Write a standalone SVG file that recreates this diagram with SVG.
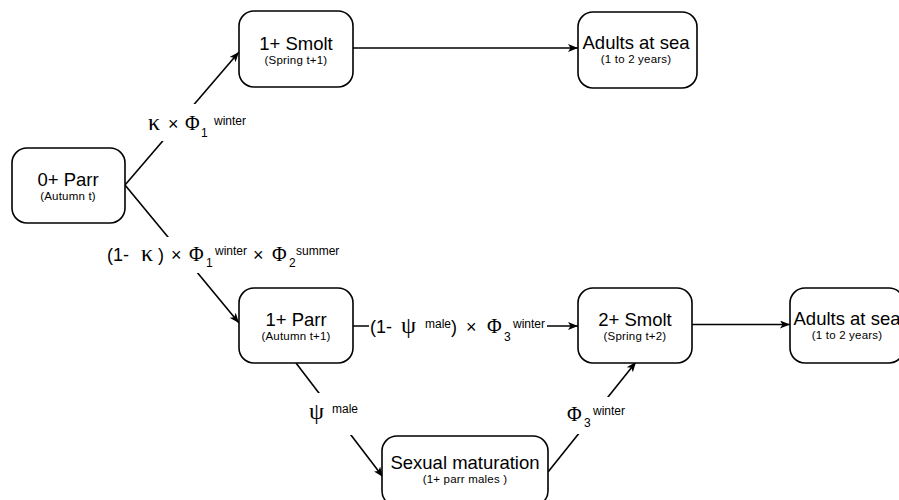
<svg xmlns="http://www.w3.org/2000/svg" width="899" height="500" viewBox="0 0 899 500">
<style>
.box{fill:#fff;stroke:#000;stroke-width:1.6}
.t{font-family:"Liberation Sans",Arial,sans-serif;font-size:18.5px;fill:#000;text-anchor:middle}
.s{font-family:"Liberation Sans",Arial,sans-serif;font-size:11.5px;letter-spacing:0.2px;fill:#000;text-anchor:middle}
.ln{fill:none;stroke:#000;stroke-width:1.6}
.bg{fill:#fff}
.lb{font-family:"Liberation Sans",Arial,sans-serif;font-size:18px;fill:#000}
.g{font-family:"Liberation Serif","Times New Roman",serif;font-size:20px}
.gk{font-family:"Liberation Serif","Times New Roman",serif;font-size:24px}
.sm{font-size:12px}
</style>
<defs>
<marker id="arr" viewBox="0 0 10 8" refX="10" refY="4" markerWidth="10" markerHeight="8" markerUnits="userSpaceOnUse" orient="auto">
<path d="M0,0 L10,4 L0,8 L2.5,4 Z" fill="#000"/>
</marker>
</defs>
<g id="connectors">
<path class="ln" d="M125,185 L239,52" marker-end="url(#arr)"/>
<path class="ln" d="M125,185 L239,323" marker-end="url(#arr)"/>
<path class="ln" d="M353,48 L578,48" marker-end="url(#arr)"/>
<path class="ln" d="M353,326 L578,326" marker-end="url(#arr)"/>
<path class="ln" d="M692,324.5 L790,324.5" marker-end="url(#arr)"/>
<path class="ln" d="M296,363 L383,477" marker-end="url(#arr)"/>
<path class="ln" d="M548,472 L636,362" marker-end="url(#arr)"/>
</g>
<g id="labels">
<g id="label-kappa">
<rect class="bg" x="145" y="104" width="103" height="37"/>
<text class="lb"><tspan class="gk" x="148" y="130">κ</tspan><tspan x="168" y="130">×</tspan><tspan class="g" x="185" y="130">Φ</tspan><tspan class="sm" x="201" y="137">1</tspan><tspan class="sm" x="214" y="125">winter</tspan></text>
</g>
<g id="label-one-minus-kappa">
<rect class="bg" x="104" y="237" width="242" height="36"/>
<text class="lb"><tspan x="107" y="261">(1-</tspan><tspan class="gk" x="141" y="261">κ</tspan><tspan x="158" y="261">)</tspan><tspan x="171" y="261">×</tspan><tspan class="g" x="189" y="261">Φ</tspan><tspan class="sm" x="206" y="267">1</tspan><tspan class="sm" x="215" y="255">winter</tspan><tspan x="253" y="261">×</tspan><tspan class="g" x="272" y="261">Φ</tspan><tspan class="sm" x="289" y="267">2</tspan><tspan class="sm" x="296" y="255">summer</tspan></text>
</g>
<g id="label-one-minus-psi">
<rect class="bg" x="369" y="316" width="178" height="28"/>
<text class="lb"><tspan x="370" y="333">(1-</tspan><tspan class="gk" x="401" y="333">ψ</tspan><tspan class="sm" x="425" y="328">male</tspan><tspan x="451" y="333">)</tspan><tspan x="466" y="333">×</tspan><tspan class="g" x="487" y="333">Φ</tspan><tspan class="sm" x="504" y="341">3</tspan><tspan class="sm" x="513" y="328">winter</tspan></text>
</g>
<g id="label-psi">
<rect class="bg" x="306" y="393" width="56" height="42"/>
<text class="lb"><tspan class="gk" x="309" y="419">ψ</tspan><tspan class="sm" x="332" y="413">male</tspan></text>
</g>
<g id="label-phi3">
<rect class="bg" x="564" y="397" width="66" height="37"/>
<text class="lb"><tspan class="g" x="567" y="421">Φ</tspan><tspan class="sm" x="584" y="427">3</tspan><tspan class="sm" x="593" y="415">winter</tspan></text>
</g>
</g>
<g id="node-0parr">
<rect class="box" x="12" y="148" width="113" height="75" rx="15"/>
<text class="t" x="68" y="186">0+ Parr</text>
<text class="s" x="68" y="200">(Autumn t)</text>
</g>
<g id="node-1smolt">
<rect class="box" x="239" y="11" width="114" height="76" rx="15"/>
<text class="t" x="296" y="50">1+ Smolt</text>
<text class="s" x="296" y="64">(Spring t+1)</text>
</g>
<g id="node-adults1">
<rect class="box" x="578" y="12" width="119" height="76" rx="15"/>
<text class="t" x="636" y="49">Adults at sea</text>
<text class="s" x="636" y="63">(1 to 2 years)</text>
</g>
<g id="node-1parr">
<rect class="box" x="239" y="288" width="114" height="75" rx="15"/>
<text class="t" x="296" y="326">1+ Parr</text>
<text class="s" x="296" y="340">(Autumn t+1)</text>
</g>
<g id="node-2smolt">
<rect class="box" x="578" y="288" width="114" height="75" rx="15"/>
<text class="t" x="635" y="326">2+ Smolt</text>
<text class="s" x="635" y="340">(Spring t+2)</text>
</g>
<g id="node-adults2">
<rect class="box" x="790" y="288" width="114" height="75" rx="15"/>
<text class="t" x="847" y="325">Adults at sea</text>
<text class="s" x="847" y="339">(1 to 2 years)</text>
</g>
<g id="node-maturation">
<rect class="box" x="382" y="436" width="166" height="70" rx="15"/>
<text class="t" x="465" y="469">Sexual maturation</text>
<text class="s" x="465" y="483">(1+ parr males )</text>
</g>
</svg>
